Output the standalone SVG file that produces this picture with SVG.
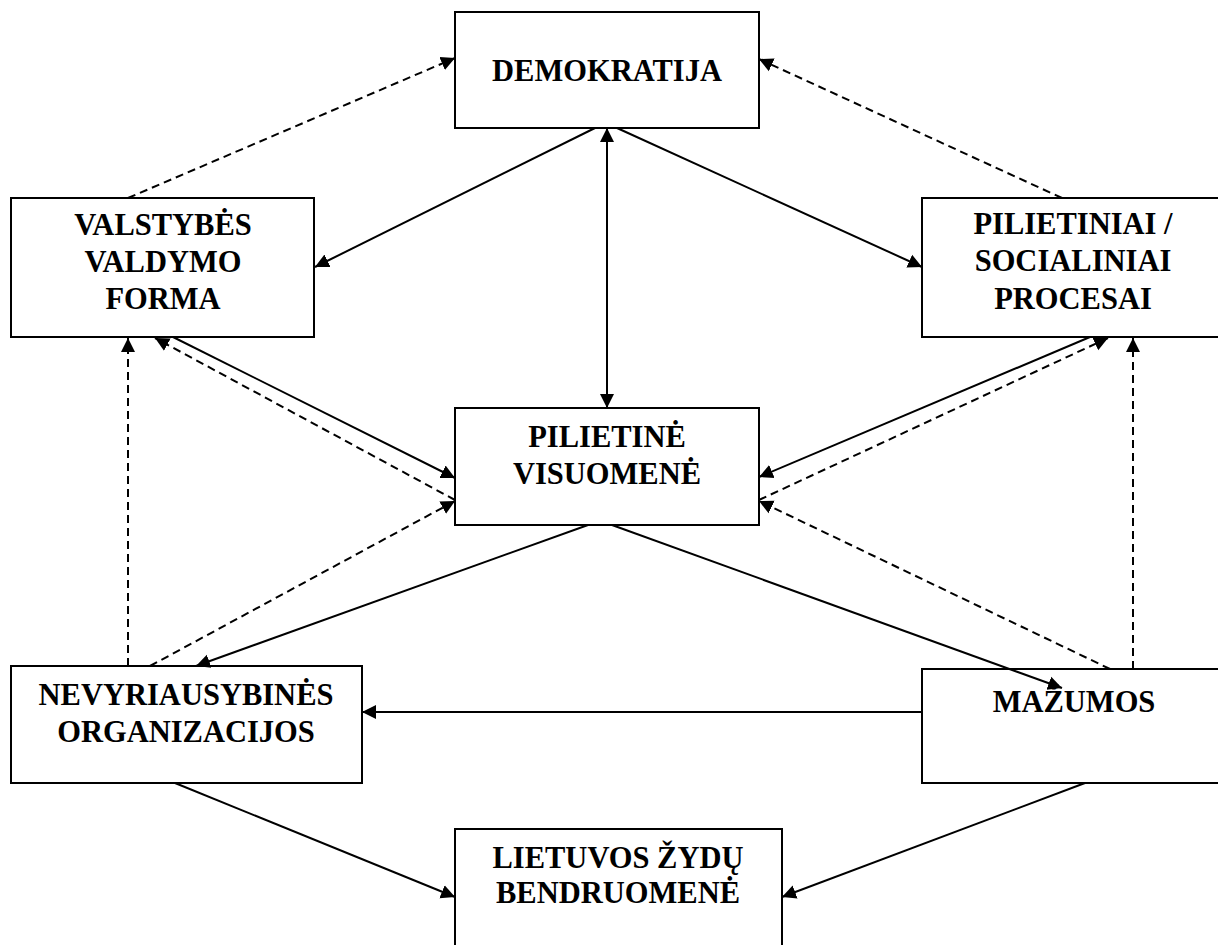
<svg xmlns="http://www.w3.org/2000/svg" width="1218" height="945" viewBox="0 0 1218 945">
<style>
.box{fill:#fff;stroke:#000;stroke-width:2}
.open{fill:none;stroke:#000;stroke-width:2}
.t{font-family:"Liberation Serif","Times New Roman",serif;font-weight:bold;font-size:30.5px;text-anchor:middle;fill:#000}
.s{fill:none;stroke:#000;stroke-width:2}
.d{fill:none;stroke:#000;stroke-width:2;stroke-dasharray:8 5}
</style>
<defs>
<marker id="ah" markerUnits="userSpaceOnUse" markerWidth="16" markerHeight="16" refX="14" refY="7" orient="auto" viewBox="0 0 16 14">
<path d="M0,0 L14,7 L0,14 z" fill="#000"/>
</marker>
<marker id="as" markerUnits="userSpaceOnUse" markerWidth="16" markerHeight="16" refX="0" refY="7" orient="auto" viewBox="0 0 16 14">
<path d="M14,0 L0,7 L14,14 z" fill="#000"/>
</marker>
</defs>
<rect width="1218" height="945" fill="#fff"/>
<g id="demokratija">
<rect class="box" x="455" y="12" width="304" height="116"/>
<text class="t" x="607" y="81">DEMOKRATIJA</text>
</g>
<g id="valstybes">
<rect class="box" x="11" y="198" width="303" height="139"/>
<text class="t" x="163" y="235">VALSTYBĖS</text>
<text class="t" x="163" y="272">VALDYMO</text>
<text class="t" x="163" y="309">FORMA</text>
</g>
<g id="pilietiniai">
<rect class="box" x="922" y="198" width="302" height="139"/>
<text class="t" x="1073" y="234">PILIETINIAI /</text>
<text class="t" x="1073" y="271">SOCIALINIAI</text>
<text class="t" x="1073" y="309">PROCESAI</text>
</g>
<g id="pilietine">
<rect class="box" x="455" y="408" width="304" height="117"/>
<text class="t" x="607" y="447">PILIETINĖ</text>
<text class="t" x="607" y="484">VISUOMENĖ</text>
</g>
<g id="nvo">
<rect class="box" x="11" y="666" width="351" height="117"/>
<text class="t" x="186" y="705">NEVYRIAUSYBINĖS</text>
<text class="t" x="186" y="742">ORGANIZACIJOS</text>
</g>
<g id="mazumos">
<rect class="open" x="922" y="669" width="302" height="114"/>
<text class="t" x="1074" y="712">MAŽUMOS</text>
</g>
<g id="lietuvos">
<rect class="box" x="455" y="829" width="327" height="130"/>
<text class="t" x="618" y="868">LIETUVOS ŽYDŲ</text>
<text class="t" x="618" y="903">BENDRUOMENĖ</text>
</g>
<g id="connectors">
<line class="s" x1="607" y1="128" x2="607" y2="408" marker-start="url(#as)" marker-end="url(#ah)"/>
<line class="s" x1="595" y1="128" x2="315" y2="267" marker-end="url(#ah)"/>
<line class="s" x1="617" y1="128" x2="922" y2="267" marker-end="url(#ah)"/>
<line class="d" x1="128" y1="198" x2="455" y2="58" marker-end="url(#ah)"/>
<line class="d" x1="1062" y1="198" x2="759" y2="59" marker-end="url(#ah)"/>
<line class="s" x1="173" y1="337" x2="455" y2="478" marker-end="url(#ah)"/>
<line class="d" x1="455" y1="500" x2="155" y2="338" marker-end="url(#ah)"/>
<line class="d" x1="128" y1="666" x2="128" y2="338" marker-end="url(#ah)"/>
<line class="d" x1="150" y1="666" x2="455" y2="501" marker-end="url(#ah)"/>
<line class="s" x1="588" y1="525" x2="196" y2="666" marker-end="url(#ah)"/>
<line class="s" x1="612" y1="525" x2="1062" y2="688" marker-end="url(#ah)"/>
<line class="d" x1="1110" y1="669" x2="759" y2="501" marker-end="url(#ah)"/>
<line class="d" x1="1133" y1="669" x2="1133" y2="338" marker-end="url(#ah)"/>
<line class="s" x1="1090" y1="337" x2="759" y2="477" marker-end="url(#ah)"/>
<line class="d" x1="759" y1="500" x2="1108" y2="338" marker-end="url(#ah)"/>
<line class="s" x1="922" y1="712" x2="362" y2="712" marker-end="url(#ah)"/>
<line class="s" x1="175" y1="783" x2="455" y2="897" marker-end="url(#ah)"/>
<line class="s" x1="1085" y1="783" x2="782" y2="897" marker-end="url(#ah)"/>
</g>
</svg>
